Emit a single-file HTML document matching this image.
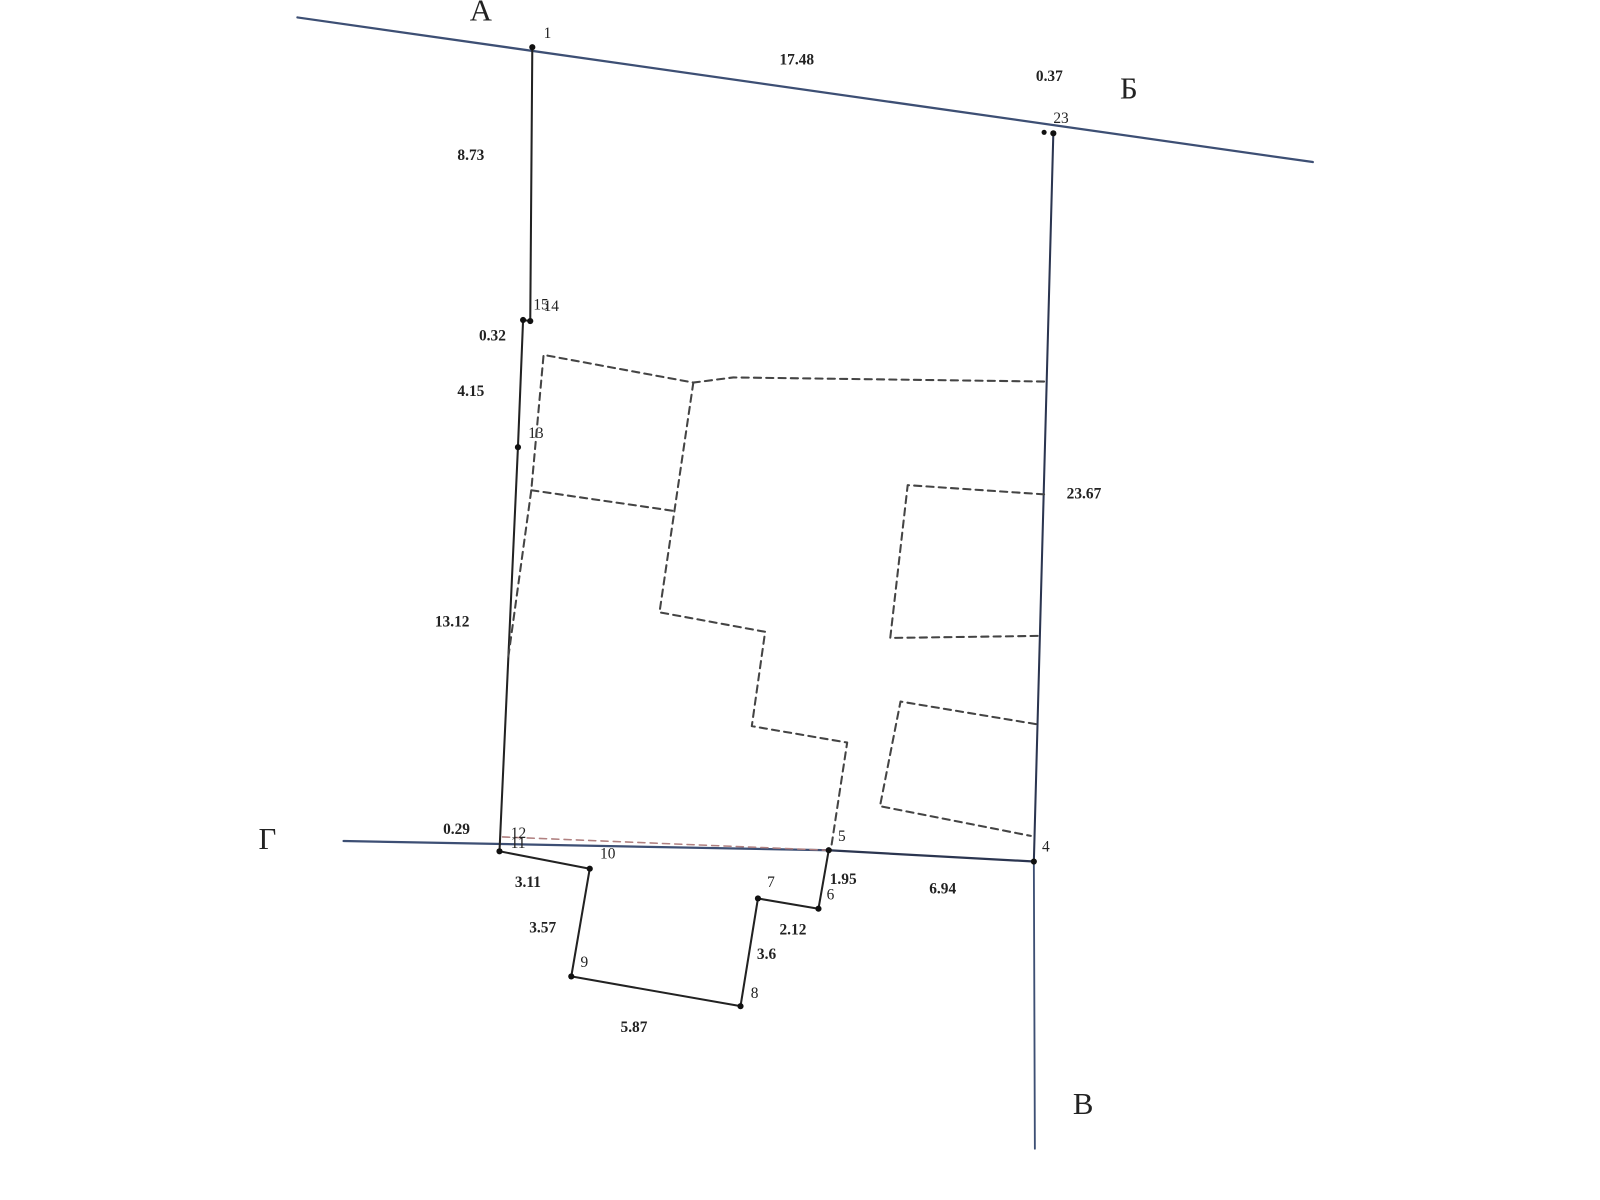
<!DOCTYPE html>
<html><head><meta charset="utf-8"><style>
html,body{margin:0;padding:0;background:#fff;width:1600px;height:1200px;overflow:hidden}
svg{display:block}
.l{font-family:"Liberation Serif",serif;font-weight:bold;font-size:15px;fill:#222}
.n{font-family:"Liberation Serif",serif;font-size:15px;fill:#222}
.b{font-family:"Liberation Serif",serif;font-size:30px;fill:#222}
</style></head><body>
<svg width="1600" height="1200" viewBox="0 0 1560 1170" preserveAspectRatio="none" xmlns="http://www.w3.org/2000/svg">
<g fill="none" stroke-linecap="round" stroke-linejoin="round">
<!-- blue roads -->
<line x1="290" y1="17" x2="1280" y2="158" stroke="#3d4f74" stroke-width="2.2"/>
<line x1="335" y1="820" x2="808" y2="829" stroke="#3d4f74" stroke-width="2.2"/>
<line x1="808" y1="829" x2="1008" y2="840" stroke="#2b3550" stroke-width="2.2"/>
<line x1="1008" y1="840" x2="1009" y2="1120" stroke="#3d4f74" stroke-width="1.8"/>
<!-- parcel boundary -->
<polyline points="519,46 517,313 510,312 505,436 487,830 575,847 557,952 722,981 739,876 798,886 808,829" stroke="#222" stroke-width="2"/>
<line x1="1027" y1="130" x2="1008" y2="840" stroke="#2b3550" stroke-width="2"/>
<!-- dashed buildings -->
<g stroke="#444" stroke-width="2" stroke-dasharray="7,5">
<polyline points="1018,372 715,368 676,373 530,346 518,478 495,645"/>
<polyline points="518,478 656,498"/>
<polyline points="676,373 643,597 746,616 733,708 826,724 810,829"/>
<polyline points="1018,482 885,473 868,622 1012,620"/>
<polyline points="1010,706 878,684 858,786 1005,815"/>
</g>
<line x1="490" y1="816" x2="808" y2="829" stroke="#b08080" stroke-width="1.5" stroke-dasharray="7,5"/>
</g>
<g fill="#111">
<circle cx="519" cy="46" r="3"/><circle cx="1027" cy="130" r="3"/><circle cx="1018" cy="129" r="2.5"/>
<circle cx="517" cy="313" r="3"/><circle cx="510" cy="312" r="3"/><circle cx="505" cy="436" r="3"/>
<circle cx="487" cy="830" r="3"/><circle cx="575" cy="847" r="3"/><circle cx="557" cy="952" r="3"/>
<circle cx="722" cy="981" r="3"/><circle cx="739" cy="876" r="3"/><circle cx="798" cy="886" r="3"/>
<circle cx="808" cy="829" r="3"/><circle cx="1008" cy="840" r="3"/>
</g>
<text class="b" x="458" y="20">А</text>
<text class="b" x="1092" y="96">Б</text>
<text class="b" x="1046" y="1086">В</text>
<text class="b" x="252" y="828">Г</text>
<text class="l" x="760" y="63">17.48</text>
<text class="l" x="1010" y="79">0.37</text>
<text class="n" x="1027" y="120">23</text>
<text class="n" x="530" y="37">1</text>
<text class="l" x="446" y="156">8.73</text>
<text class="n" x="520" y="302">15</text>
<text class="n" x="530" y="303">14</text>
<text class="l" x="467" y="332">0.32</text>
<text class="l" x="446" y="386">4.15</text>
<text class="n" x="515" y="427">13</text>
<text class="l" x="1040" y="486">23.67</text>
<text class="l" x="424" y="611">13.12</text>
<text class="l" x="432" y="813">0.29</text>
<text class="n" x="498" y="817">12</text>
<text class="n" x="498" y="827">11</text>
<text class="n" x="585" y="837">10</text>
<text class="n" x="817" y="820">5</text>
<text class="n" x="1016" y="830">4</text>
<text class="l" x="809" y="862">1.95</text>
<text class="n" x="806" y="877">6</text>
<text class="n" x="748" y="865">7</text>
<text class="l" x="906" y="871">6.94</text>
<text class="l" x="502" y="865">3.11</text>
<text class="l" x="760" y="911">2.12</text>
<text class="l" x="516" y="909">3.57</text>
<text class="l" x="738" y="935">3.6</text>
<text class="n" x="566" y="943">9</text>
<text class="n" x="732" y="973">8</text>
<text class="l" x="605" y="1006">5.87</text>
</svg>
</body></html>
